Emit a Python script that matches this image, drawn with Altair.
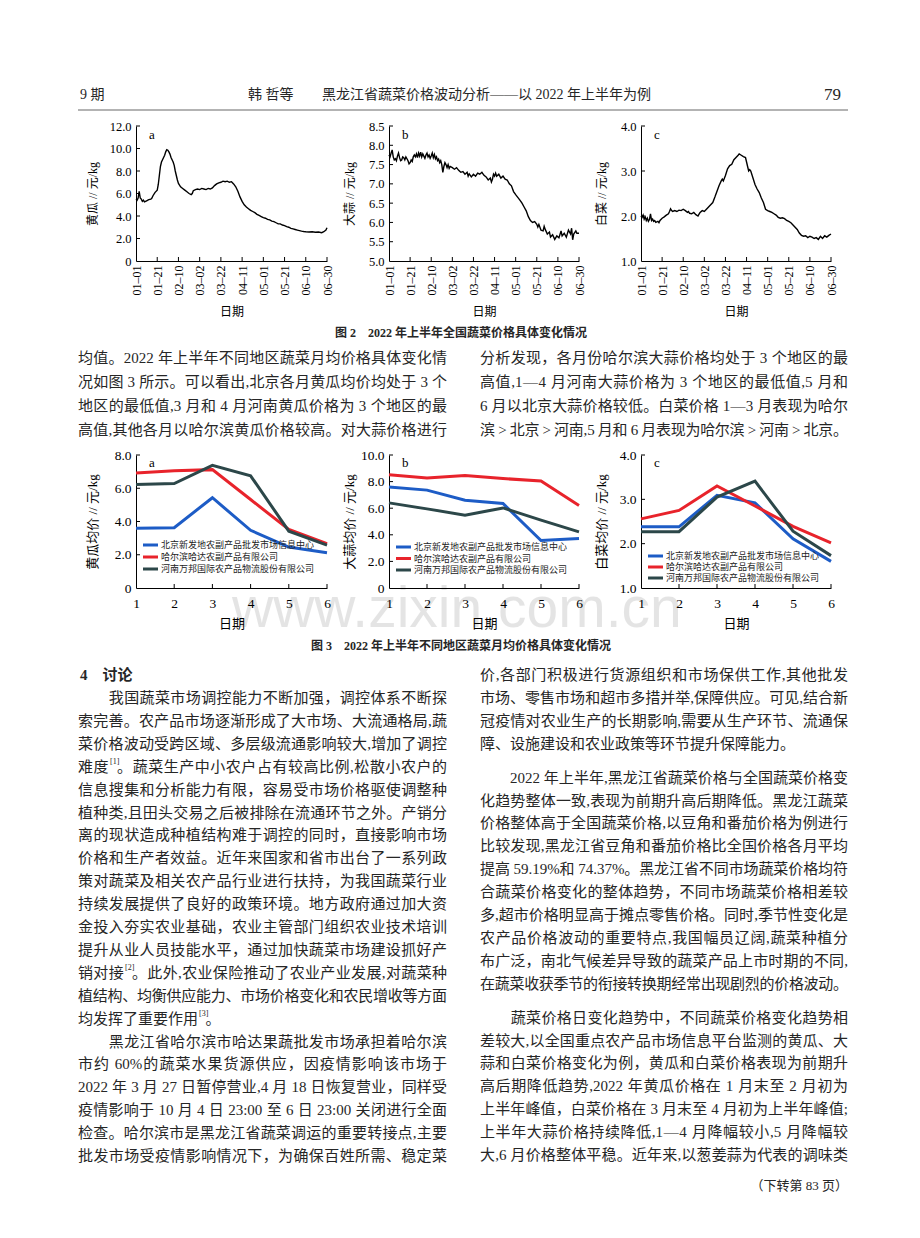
import re
import altair as alt
import pandas as pd

# ---------------- Figure 2: daily national prices (day index from 01-01) ----------------
CUCUMBER = [(0,5.5),(1,5.4),(2,5.6),(3,6.2),(4,5.6),(5,5.5),(6,5.3),(7,5.4),(8,5.25),(10,5.35),(12,5.45),
            (14,5.5),(15,5.6),(16,5.8),(18,6.1),(20,6.3),(21,6.8),(22,7.6),(23,8.4),(24,8.8),(25,9.0),(26,9.2),
            (27,9.4),(28,9.7),(29,9.9),(30,9.85),(31,9.7),(32,9.5),(33,9.2),(34,9.0),(35,8.8),(36,8.5),(37,8.0),
            (38,7.6),(39,7.2),(40,6.9),(42,6.6),(44,6.45),(46,6.3),(48,6.15),(50,6.0),(52,5.9),(53,6.0),(54,6.25),
            (56,6.35),(58,6.4),(60,6.35),(62,6.45),(64,6.4),(66,6.35),(68,6.45),(70,6.4),(72,6.5),(74,6.7),
            (76,6.85),(78,6.95),(80,7.0),(82,7.1),(84,7.05),(86,7.1),(88,7.0),(90,7.05),(92,6.85),(94,6.6),
            (96,6.2),(98,5.7),(100,5.3),(102,5.0),(104,4.8),(106,4.65),(108,4.5),(110,4.4),(112,4.3),(114,4.15),
            (116,4.05),(118,3.95),(120,3.85),(122,3.8),(124,3.7),(126,3.65),(128,3.55),(130,3.5),(132,3.4),
            (134,3.3),(136,3.3),(138,3.2),(140,3.15),(142,3.05),(144,3.0),(146,2.9),(148,2.85),(150,2.8),
            (152,2.75),(154,2.7),(156,2.65),(158,2.62),(160,2.6),(163,2.58),(166,2.6),(169,2.55),(172,2.58),
            (175,2.52),(177,2.6),(179,2.75),(180,2.95)]
GARLIC = [(0,7.75),(1,7.7),(2,7.8),(3,7.88),(4,7.7),(5,7.62),(6,7.65),(7,7.6),(8,7.72),(9,7.8),(10,7.68),
          (11,7.6),(12,7.62),(13,7.7),(14,7.68),(15,7.62),(16,7.7),(17,7.65),(18,7.6),(19,7.52),(20,7.55),
          (21,7.62),(22,7.58),(23,7.7),(24,7.75),(25,7.7),(26,7.78),(27,7.68),(28,7.8),(29,7.72),(30,7.82),
          (31,7.7),(32,7.78),(33,7.72),(34,7.66),(35,7.75),(36,7.8),(37,7.7),(38,7.75),(39,7.66),(40,7.72),
          (41,7.8),(42,7.68),(43,7.76),(44,7.65),(45,7.7),(46,7.6),(47,7.64),(48,7.55),(49,7.6),(50,7.5),
          (51,7.3),(52,7.45),(53,7.55),(54,7.5),(55,7.42),(56,7.5),(57,7.4),(58,7.45),(60,7.42),(62,7.38),
          (64,7.42),(66,7.35),(68,7.3),(70,7.32),(72,7.25),(74,7.3),(75,7.2),(76,7.26),(78,7.18),(80,7.25),
          (82,7.2),(84,7.28),(86,7.25),(88,7.3),(90,7.22),(92,7.18),(94,7.1),(96,7.15),(97,7.05),(98,7.12),
          (99,7.25),(100,7.2),(101,7.28),(102,7.2),(104,7.25),(106,7.15),(108,7.2),(110,7.12),(112,7.1),
          (114,7.0),(116,6.95),(118,6.8),(120,6.72),(122,6.65),(124,6.58),(126,6.5),(128,6.4),(130,6.3),
          (132,6.15),(134,6.05),(136,6.0),(138,6.02),(140,5.95),(141,5.88),(142,5.95),(144,5.8),(146,5.78),
          (147,5.9),(148,5.82),(150,5.7),(152,5.75),(153,5.62),(155,5.68),(157,5.56),(159,5.65),(161,5.6),
          (163,5.78),(164,5.65),(166,5.72),(168,5.62),(170,5.8),(172,5.7),(173,5.85),(174,5.55),(175,5.7),
          (177,5.78),(178,5.72),(180,5.72)]
CABBAGE = [(0,2.0),(1,1.97),(2,2.02),(3,1.93),(4,1.98),(5,1.9),(6,1.95),(7,1.88),(8,1.92),(9,2.05),(10,1.9),
           (11,1.93),(12,1.88),(13,1.9),(14,1.86),(16,1.88),(17,1.85),(18,1.9),(20,1.95),(22,1.98),(24,2.02),
           (26,2.05),(27,2.1),(28,2.16),(29,2.12),(30,2.1),(32,2.12),(34,2.1),(36,2.13),(38,2.12),(40,2.15),
           (42,2.12),(44,2.08),(45,2.1),(46,2.06),(48,2.05),(50,2.08),(52,2.03),(54,2.0),(55,2.04),(56,2.08),
           (58,2.12),(60,2.1),(62,2.15),(64,2.2),(66,2.25),(68,2.3),(70,2.42),(72,2.55),(74,2.68),(76,2.78),
           (77,2.82),(78,2.78),(80,2.9),(82,3.05),(84,3.12),(86,3.15),(88,3.25),(90,3.3),(92,3.35),(93,3.38),
           (95,3.35),(97,3.32),(99,3.3),(100,3.2),(101,3.1),(102,3.0),(103,3.03),(104,3.0),(106,2.85),
           (108,2.7),(110,2.6),(112,2.52),(114,2.4),(115,2.35),(116,2.3),(118,2.15),(120,2.12),(122,2.1),
           (124,2.08),(126,2.05),(128,2.02),(130,1.97),(132,1.95),(134,1.96),(136,1.94),(138,1.9),(140,1.88),
           (142,1.85),(144,1.8),(146,1.75),(148,1.7),(150,1.62),(152,1.57),(154,1.55),(156,1.56),(158,1.52),
           (160,1.55),(162,1.53),(164,1.5),(166,1.52),(168,1.48),(170,1.55),(172,1.5),(174,1.56),(176,1.53),
           (178,1.57),(180,1.6)]
FIG2_TICK_DAYS = [0, 20, 40, 60, 80, 100, 120, 140, 160, 180]
FIG2_TICK_LABELS = ["01–01", "01–21", "02–10", "03–02", "03–22", "04–11", "05–01", "05–21", "06–10", "06–30"]
FIG2_YTICKS_A = [0, 2, 4, 6, 8, 10, 12]
FIG2_YTICKS_B = [5.0, 5.5, 6.0, 6.5, 7.0, 7.5, 8.0, 8.5]
FIG2_YTICKS_C = [1.0, 2.0, 3.0, 4.0]

# ---------------- Figure 3: monthly average by market ----------------
MONTHS = [1, 2, 3, 4, 5, 6]
MARKETS = ["北京新发地农副产品批发市场信息中心", "哈尔滨哈达农副产品有限公司", "河南万邦国际农产品物流股份有限公司"]
MARKET_COLORS = ["#1d5cc6", "#e8232b", "#2c4749"]
CUC_BJ = [3.6, 3.63, 5.43, 3.47, 2.46, 2.12]
CUC_HEB = [6.92, 7.05, 7.12, 5.32, 3.52, 2.66]
CUC_HN = [6.22, 6.28, 7.38, 6.75, 3.42, 2.58]
GAR_BJ = [7.6, 7.36, 6.6, 6.35, 3.57, 3.72]
GAR_HEB = [8.52, 8.28, 8.46, 8.23, 8.04, 6.2]
GAR_HN = [6.4, 5.95, 5.48, 6.02, 5.1, 4.22]
CAB_BJ = [2.38, 2.38, 3.09, 2.92, 2.11, 1.6]
CAB_HEB = [2.56, 2.75, 3.3, 2.85, 2.39, 2.02]
CAB_HN = [2.27, 2.27, 3.05, 3.41, 2.28, 1.73]
FIG3_YTICKS_A = [0, 2, 4, 6, 8]
FIG3_YTICKS_B = [0, 2, 4, 6, 8, 10]
FIG3_YTICKS_C = [1.0, 2.0, 3.0, 4.0]

# ---------------- page text ----------------
HEADER_ISSUE = "9 期"
HEADER_AUTHORS = "韩 哲等"
HEADER_TITLE = "黑龙江省蔬菜价格波动分析——以 2022 年上半年为例"
PAGE_NO = "79"
FIG2_CAPTION = "图 2　2022 年上半年全国蔬菜价格具体变化情况"
FIG3_CAPTION = "图 3　2022 年上半年不同地区蔬菜月均价格具体变化情况"
PARA_LEFT = [
    "均值。2022 年上半年不同地区蔬菜月均价格具体变化情",
    "况如图 3 所示。可以看出,北京各月黄瓜均价均处于 3 个",
    "地区的最低值,3 月和 4 月河南黄瓜价格为 3 个地区的最",
    "高值,其他各月以哈尔滨黄瓜价格较高。对大蒜价格进行",
]
PARA_RIGHT = [
    "分析发现，各月份哈尔滨大蒜价格均处于 3 个地区的最",
    "高值,1—4 月河南大蒜价格为 3 个地区的最低值,5 月和",
    "6 月以北京大蒜价格较低。白菜价格 1—3 月表现为哈尔",
    "滨 > 北京 > 河南,5 月和 6 月表现为哈尔滨 > 河南 > 北京。",
]
SECTION = "4　讨论"
BODY_LEFT = [
    "　　我国蔬菜市场调控能力不断加强，调控体系不断探",
    "索完善。农产品市场逐渐形成了大市场、大流通格局,蔬",
    "菜价格波动受跨区域、多层级流通影响较大,增加了调控",
    "难度^[1]。蔬菜生产中小农户占有较高比例,松散小农户的",
    "信息搜集和分析能力有限，容易受市场价格驱使调整种",
    "植种类,且田头交易之后被排除在流通环节之外。产销分",
    "离的现状造成种植结构难于调控的同时，直接影响市场",
    "价格和生产者效益。近年来国家和省市出台了一系列政",
    "策对蔬菜及相关农产品行业进行扶持，为我国蔬菜行业",
    "持续发展提供了良好的政策环境。地方政府通过加大资",
    "金投入夯实农业基础，农业主管部门组织农业技术培训",
    "提升从业人员技能水平，通过加快蔬菜市场建设抓好产",
    "销对接^[2]。此外,农业保险推动了农业产业发展,对蔬菜种",
    "植结构、均衡供应能力、市场价格变化和农民增收等方面",
    "均发挥了重要作用^[3]。",
    "　　黑龙江省哈尔滨市哈达果蔬批发市场承担着哈尔滨",
    "市约 60%的蔬菜水果货源供应，因疫情影响该市场于",
    "2022 年 3 月 27 日暂停营业,4 月 18 日恢复营业，同样受",
    "疫情影响于 10 月 4 日 23:00 至 6 日 23:00 关闭进行全面",
    "检查。哈尔滨市是黑龙江省蔬菜调运的重要转接点,主要",
    "批发市场受疫情影响情况下，为确保百姓所需、稳定菜",
]
BODY_RIGHT = [
    "价,各部门积极进行货源组织和市场保供工作,其他批发",
    "市场、零售市场和超市多措并举,保障供应。可见,结合新",
    "冠疫情对农业生产的长期影响,需要从生产环节、流通保",
    "障、设施建设和农业政策等环节提升保障能力。",
    "　　2022 年上半年,黑龙江省蔬菜价格与全国蔬菜价格变",
    "化趋势整体一致,表现为前期升高后期降低。黑龙江蔬菜",
    "价格整体高于全国蔬菜价格,以豆角和番茄价格为例进行",
    "比较发现,黑龙江省豆角和番茄价格比全国价格各月平均",
    "提高 59.19%和 74.37%。黑龙江省不同市场蔬菜价格均符",
    "合蔬菜价格变化的整体趋势，不同市场蔬菜价格相差较",
    "多,超市价格明显高于摊点零售价格。同时,季节性变化是",
    "农产品价格波动的重要特点,我国幅员辽阔,蔬菜种植分",
    "布广泛，南北气候差异导致的蔬菜产品上市时期的不同,",
    "在蔬菜收获季节的衔接转换期经常出现剧烈的价格波动。",
    "　　蔬菜价格日变化趋势中，不同蔬菜价格变化趋势相",
    "差较大,以全国重点农产品市场信息平台监测的黄瓜、大",
    "蒜和白菜价格变化为例，黄瓜和白菜价格表现为前期升",
    "高后期降低趋势,2022 年黄瓜价格在 1 月末至 2 月初为",
    "上半年峰值，白菜价格在 3 月末至 4 月初为上半年峰值;",
    "上半年大蒜价格持续降低,1—4 月降幅较小,5 月降幅较",
    "大,6 月价格整体平稳。近年来,以葱姜蒜为代表的调味类",
]
CONT_NOTE = "（下转第 83 页）"
WATERMARK = "www.zixin.com.cn"

# ---------------- styling / layout ----------------
MIX = "Liberation Serif, Noto Sans CJK SC"
CJK = "Noto Sans CJK SC"
INK = "#262626"
OX = 136            # page x of first grid column
COL_GAP = 62
W_A, W_B, W_C = 191, 190, 190
ROW_H = [120, 135, 194, 133, 656]
ROW_Y = [0, 120, 255, 449, 582]

AX = dict(domainColor="black", domainWidth=1, ticks=False, grid=False, labelColor="black",
          labelFont="Liberation Serif", titleFont=MIX, titleColor="black", titleFontWeight="normal",
          labelOverlap=False, labelFlush=False, labelBound=False)
YLAB = "datum.value == 0 ? '0' : format(datum.value, '.1f')"
ONE = pd.DataFrame({"k": [0]})


def inner_ticks(x_enc, xfield, xvals, y_enc, yfield, yvals, h, ln=4):
    # short ticks drawn on the inside of the axes; they reuse the panel's own encodings (same scales/axes)
    xt = alt.Chart(pd.DataFrame({xfield: xvals})).mark_rule(color="black", strokeWidth=1).encode(
        x=x_enc, y=alt.value(h), y2=alt.value(h - ln))
    yt = alt.Chart(pd.DataFrame({yfield: yvals})).mark_rule(color="black", strokeWidth=1).encode(
        y=y_enc, x=alt.value(0), x2=alt.value(ln))
    return [xt, yt]


def letter_mark(letter, x, y):
    return alt.Chart(pd.DataFrame({"t": [letter]})).mark_text(
        font="Liberation Serif", fontSize=13, align="left", baseline="middle", color="black").encode(
        text="t:N", x=alt.value(x), y=alt.value(y))


def fig2_panel(series, yticks, ytitle, letter, w, title_x):
    h = ROW_H[1]
    df = pd.DataFrame(series, columns=["day", "price"])
    xlab = "[" + ",".join("'%s'" % s for s in FIG2_TICK_LABELS) + "][round(datum.value / 20)]"
    x = alt.X("day:Q", scale=alt.Scale(domain=[0, 180], nice=False, zero=False),
              axis=alt.Axis(values=FIG2_TICK_DAYS, labelExpr=xlab, labelAngle=270, labelAlign="right",
                            labelBaseline="middle", labelFontSize=12, labelPadding=4, title="日期",
                            titleFontSize=12, titleX=w / 2, titleY=50, titleAlign="center",
                            titleBaseline="middle", **AX))
    y = alt.Y("price:Q", scale=alt.Scale(domain=[yticks[0], yticks[-1]], nice=False, zero=False),
              axis=alt.Axis(values=yticks, labelExpr=YLAB, labelFontSize=12.5, labelPadding=5,
                            title=ytitle, titleFontSize=12, titleX=title_x, titleY=h / 2, titleAngle=270,
                            titleAlign="center", titleBaseline="middle", **AX))
    line = alt.Chart(df).mark_line(color="black", strokeWidth=1.4).encode(x=x, y=y)
    layers = [line] + inner_ticks(x, "day", FIG2_TICK_DAYS[1:], y, "price", yticks[1:], h)
    layers.append(letter_mark(letter, 13, 9))
    return alt.layer(*layers).properties(width=w, height=h)


def fig3_panel(vals, yticks, ytitle, letter, w, title_x, leg_y, leg_dy):
    h = ROW_H[3]
    rows = []
    for m, series in zip(MARKETS, vals):
        for mo, v in zip(MONTHS, series):
            rows.append({"month": mo, "price": v, "market": m})
    df = pd.DataFrame(rows)
    x = alt.X("month:Q", scale=alt.Scale(domain=[1, 6], nice=False, zero=False),
              axis=alt.Axis(values=MONTHS, format="d", labelFontSize=13.5, labelPadding=8, title="日期",
                            titleFontSize=13, titleX=w / 2, titleY=35, titleAlign="center",
                            titleBaseline="middle", **AX))
    y = alt.Y("price:Q", scale=alt.Scale(domain=[yticks[0], yticks[-1]], nice=False, zero=False),
              axis=alt.Axis(values=yticks, labelExpr=YLAB, labelFontSize=13.5, labelPadding=5,
                            title=ytitle, titleFontSize=13, titleX=title_x, titleY=h / 2, titleAngle=270,
                            titleAlign="center", titleBaseline="middle", **AX))
    line = alt.Chart(df).mark_line(strokeWidth=3).encode(
        x=x, y=y,
        color=alt.Color("market:N", scale=alt.Scale(domain=MARKETS, range=MARKET_COLORS), legend=None))
    layers = [line] + inner_ticks(x, "month", MONTHS[1:], y, "price", yticks[1:], h)
    layers.append(letter_mark(letter, 13, 8))
    for i, (m, c) in enumerate(zip(MARKETS, MARKET_COLORS)):
        yy = leg_y + i * leg_dy
        layers.append(alt.Chart(ONE).mark_rule(color=c, strokeWidth=3).encode(
            x=alt.value(7), x2=alt.value(22), y=alt.value(yy)))
        layers.append(alt.Chart(pd.DataFrame({"t": [m]})).mark_text(
            font=CJK, fontSize=9, align="left", baseline="middle", color="#222").encode(
            text="t:N", x=alt.value(25), y=alt.value(yy)))
    return alt.layer(*layers).properties(width=w, height=h)


def text_layer(rows, origin, **mk):
    ox, oy = origin
    df = pd.DataFrame({"x": [r[0] - ox for r in rows], "y": [r[1] - oy for r in rows],
                       "text": [r[2] for r in rows]})
    return alt.Chart(df).mark_text(**mk).encode(
        x=alt.X("x:Q", scale=None, axis=None), y=alt.Y("y:Q", scale=None, axis=None), text="text:N")


ASCII_EM = {".": 0.25, ",": 0.25, ":": 0.28, ";": 0.28, "%": 0.83, ">": 0.56, "[": 0.33, "]": 0.33}
TOKEN_RE = re.compile(r"\^\[\d+\]|[\x21-\x7e]+| |.")


def tok_em(t):
    if t.startswith("^"):
        return 0.5
    if t == " ":
        return 0.25
    if len(t) == 1 and (ord(t) >= 0x2E80 or t == "—"):
        return 1.0
    return sum(ASCII_EM.get(c, 0.5) for c in t)


def set_line(line, x0, y, colw, fs, out, sups):
    toks = TOKEN_RE.findall(line)
    widths = [tok_em(t) * fs for t in toks]
    natural = sum(widths)
    gap = (colw - natural) / (len(toks) - 1) if natural >= 0.88 * colw and len(toks) > 1 else 0.0
    x = x0
    for t, wd in zip(toks, widths):
        if t.startswith("^"):
            sups.append((x + 1, y - 5, t[1:]))
        elif t.strip():
            out.append((x, y, t))
        x += wd + gap


FS = 15
COL_L, COL_R, COLW = 78, 480, 369
BODY_STYLE = dict(font=MIX, fontSize=FS, align="left", baseline="middle", color=INK)


def empty(w):
    return alt.Chart(pd.DataFrame({"t": [""]})).mark_text().encode(text="t:N").properties(width=w, height=1)


# ---- row 0: page header ----
o0 = (OX, ROW_Y[0])
bg = alt.Chart(ONE).mark_rect(color="white").encode(
    x=alt.value(-OX), x2=alt.value(920 - OX), y=alt.value(0), y2=alt.value(1238))
hrule = alt.Chart(ONE).mark_rule(color="#9a9a9a", strokeWidth=1.6).encode(
    x=alt.value(78 - OX), x2=alt.value(848 - OX), y=alt.value(104))
header = alt.layer(
    bg, hrule,
    text_layer([(80, 89, HEADER_ISSUE), (248, 89, HEADER_AUTHORS), (322, 89, HEADER_TITLE)], o0,
               font=MIX, fontSize=14, align="left", baseline="middle", color=INK),
    text_layer([(841, 89, PAGE_NO)], o0, font="Liberation Serif", fontSize=17, align="right",
               baseline="middle", color=INK),
).properties(width=W_A, height=ROW_H[0])

# ---- row 2: caption of Fig. 2 and two-column paragraph ----
o2 = (OX, ROW_Y[2])
para_rows, para_sups = [], []
for i, ln in enumerate(PARA_LEFT):
    set_line(ln, COL_L, 352 + 24 * i, COLW, FS, para_rows, para_sups)
for i, ln in enumerate(PARA_RIGHT):
    set_line(ln, COL_R, 352 + 24 * i, COLW - 1, FS, para_rows, para_sups)
row2 = alt.layer(
    text_layer([(461, 327, FIG2_CAPTION)], o2, font=MIX, fontSize=12, fontWeight="bold",
               align="center", baseline="middle", color=INK),
    text_layer(para_rows, o2, **BODY_STYLE),
).properties(width=W_A, height=ROW_H[2])

# ---- row 4: caption of Fig. 3, section 4 text ----
o4 = (OX, ROW_Y[4])
PITCH = 22.9
PARA_GAP = 11
body_rows, body_sups = [], []
for i, ln in enumerate(BODY_LEFT):
    set_line(ln, COL_L, 692 + PITCH * i, COLW, FS, body_rows, body_sups)
yr = 669
for i, ln in enumerate(BODY_RIGHT):
    if i > 0 and ln.startswith("　　"):
        yr += PARA_GAP
    set_line(ln, COL_R, yr, COLW - 1, FS, body_rows, body_sups)
    yr += PITCH
note_y = yr + 8
row4 = alt.layer(
    text_layer([(232, 621, WATERMARK)], o4, font="Liberation Sans", fontSize=57, align="left",
               baseline="alphabetic", color="#000000", opacity=0.1),
    text_layer([(461, 640, FIG3_CAPTION)], o4, font=MIX, fontSize=12, fontWeight="bold",
               align="center", baseline="middle", color=INK),
    text_layer([(80, 669, SECTION)], o4, font=MIX, fontSize=15, fontWeight="bold",
               align="left", baseline="middle", color=INK),
    text_layer(body_rows, o4, **BODY_STYLE),
    text_layer(body_sups, o4, font="Liberation Serif", fontSize=8, align="left", baseline="middle",
               color=INK),
    text_layer([(848, note_y, CONT_NOTE)], o4, font=MIX, fontSize=13, align="right",
               baseline="middle", color=INK),
).properties(width=W_A, height=ROW_H[4])

f2a = fig2_panel(CUCUMBER, FIG2_YTICKS_A, "黄瓜 // 元/kg", "a", W_A, -44)
f2b = fig2_panel(GARLIC, FIG2_YTICKS_B, "大蒜 // 元/kg", "b", W_B, -40)
f2c = fig2_panel(CABBAGE, FIG2_YTICKS_C, "白菜 // 元/kg", "c", W_C, -40)
f3a = fig3_panel([CUC_BJ, CUC_HEB, CUC_HN], FIG3_YTICKS_A, "黄瓜均价 // 元/kg", "a", W_A, -44, 90, 12)
f3b = fig3_panel([GAR_BJ, GAR_HEB, GAR_HN], FIG3_YTICKS_B, "大蒜均价 // 元/kg", "b", W_B, -40, 92, 11.5)
f3c = fig3_panel([CAB_BJ, CAB_HEB, CAB_HN], FIG3_YTICKS_C, "白菜均价 // 元/kg", "c", W_C, -40, 101, 11)

cells = [header, empty(W_B), empty(W_C),
         f2a, f2b, f2c,
         row2, empty(W_B), empty(W_C),
         f3a, f3b, f3c,
         row4, empty(W_B), empty(W_C)]

chart = alt.concat(*cells, columns=3, spacing={"row": 0, "column": COL_GAP}, bounds="flush",
                   align="each", padding=0, background="white").configure_view(strokeWidth=0)

chart.save("out.html", embed_options={"renderer": "svg", "actions": False})
